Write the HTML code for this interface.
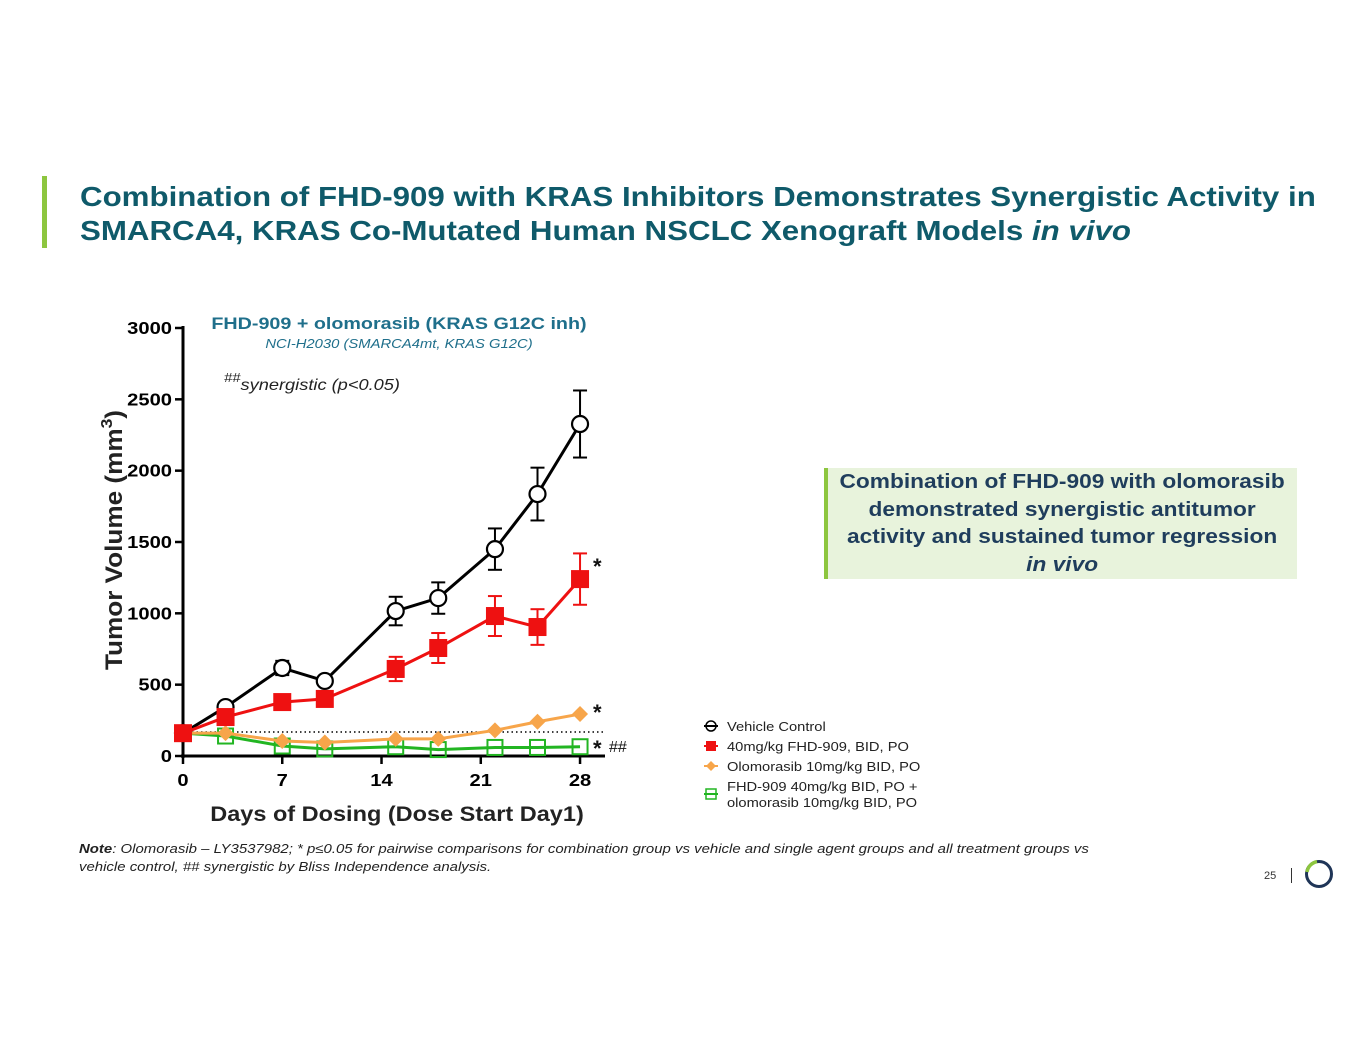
<!DOCTYPE html>
<html><head><meta charset="utf-8"><style>
body{margin:0;width:1365px;height:1055px;background:#fff;font-family:"Liberation Sans",sans-serif;position:relative;overflow:hidden}
.abs{position:absolute}
.sx{transform-origin:0 0}
</style></head><body>
<div class="abs" style="left:42px;top:176px;width:5px;height:72px;background:#8dc63f"></div>
<div class="abs sx" style="left:80px;top:180px;font-size:27.5px;font-weight:bold;color:#0f5a6a;line-height:34px;white-space:nowrap;transform:scaleX(1.137)">Combination of FHD-909 with KRAS Inhibitors Demonstrates Synergistic Activity in<br>SMARCA4, KRAS Co-Mutated Human NSCLC Xenograft Models <i>in vivo</i></div>
<div class="abs" style="left:824px;top:468px;width:469px;height:111px;background:#e8f3dc;border-left:4px solid #8dc63f"></div>
<div class="abs" style="left:828px;top:469px;width:469px;text-align:center;color:#1f3d5c;font-weight:bold;font-size:20px;line-height:27.5px"><div style="display:inline-block;transform:scaleX(1.135)">Combination of FHD-909 with olomorasib<br>demonstrated synergistic antitumor<br>activity and sustained tumor regression<br><i>in vivo</i></div></div>
<div class="abs sx" style="left:79px;top:840px;font-size:13px;font-style:italic;color:#222;line-height:18px;white-space:nowrap;transform:scaleX(1.15)"><b>Note</b>: Olomorasib – LY3537982; * p≤0.05 for pairwise comparisons for combination group vs vehicle and single agent groups and all treatment groups vs<br>vehicle control, ## synergistic by Bliss Independence analysis.</div>
<div class="abs" style="left:1264px;top:870px;font-size:11px;color:#333">25</div>
<div class="abs" style="left:1291px;top:868px;width:1px;height:15px;background:#333"></div>
<svg class="abs" style="left:1303px;top:858px" width="32" height="32"><circle cx="16" cy="16" r="12.5" fill="none" stroke="#1f3557" stroke-width="3"/><path d="M4 14 A12.5 12.5 0 0 1 14 3.6" fill="none" stroke="#8dc63f" stroke-width="3.5"/></svg>
<svg id="chart" class="abs" style="left:0;top:0" width="1365" height="1055"></svg>
<script>
const days=[0,3,7,10,15,18,22,25,28];
const vehicle=[160,343,617,526,1016,1107,1450,1836,2327];
const vehicleErr=[0,20,50,20,100,110,145,185,235];
const fhd=[160,273,378,400,610,757,981,904,1240];
const fhdErr=[0,20,20,20,85,105,140,125,180];
const olo=[160,160,105,95,120,120,180,240,294];
const combo=[160,140,70,50,65,45,60,60,65];
const yTicks=[0,500,1000,1500,2000,2500,3000];
const xTicks=[0,7,14,21,28];
const baseline=168;
const X=d=>183+d*14.18, Y=v=>756-v*0.14267;
const svg=document.getElementById('chart');
const NS='http://www.w3.org/2000/svg';
function mk(t,a,txt){const e=document.createElementNS(NS,t);for(const k in a)e.setAttribute(k,a[k]);if(txt!==undefined)e.textContent=txt;svg.appendChild(e);return e;}
function sx(el,x,s){el.setAttribute('transform',`translate(${x},0) scale(${s},1) translate(${-x},0)`);}
let e;
e=mk('line',{x1:183,y1:326,x2:183,y2:758,stroke:'#000','stroke-width':3});


e=mk('line',{x1:181,y1:756,x2:605,y2:756,stroke:'#000','stroke-width':3});


yTicks.forEach(v=>{mk('line',{x1:175,y1:Y(v),x2:183,y2:Y(v),stroke:'#000','stroke-width':2.5});
e=mk('text',{x:172,y:Y(v)+6,'text-anchor':'end','font-size':18,'font-weight':'bold'},v);sx(e,172,1.12);

});
xTicks.forEach(v=>{mk('line',{x1:X(v),y1:756,x2:X(v),y2:764,stroke:'#000','stroke-width':2.5});
e=mk('text',{x:X(v),y:786,'text-anchor':'middle','font-size':18,'font-weight':'bold'},v);sx(e,X(v),1.12);

});
e=mk('line',{x1:183,y1:Y(baseline),x2:605,y2:Y(baseline),stroke:'#000','stroke-width':1.5,'stroke-dasharray':'1.5,3'});


e=mk('text',{x:397,y:821,'text-anchor':'middle','font-size':21,'font-weight':'bold',fill:'#222'},'Days of Dosing (Dose Start Day1)');sx(e,397,1.12);


e=mk('text',{transform:'translate(122,540) rotate(-90)','text-anchor':'middle','font-size':24,'font-weight':'bold',fill:'#222',textLength:260,lengthAdjust:'spacingAndGlyphs'});
e.innerHTML='Tumor Volume (mm<tspan dy="-10" font-size="16">3</tspan><tspan dy="10">)</tspan>';


e=mk('text',{x:399,y:329,'text-anchor':'middle','font-size':17,'font-weight':'bold',fill:'#1f6f8b'},'FHD-909 + olomorasib (KRAS G12C inh)');sx(e,399,1.16);


e=mk('text',{x:399,y:348,'text-anchor':'middle','font-size':13,'font-style':'italic',fill:'#1f6f8b'},'NCI-H2030 (SMARCA4mt, KRAS G12C)');sx(e,399,1.14);


e=mk('text',{x:224,y:390,'font-size':16,'font-style':'italic',fill:'#222'});
e.innerHTML='<tspan dy="-8" font-size="13">##</tspan><tspan dy="8">synergistic (p&lt;0.05)</tspan>';sx(e,224,1.14);


function series(name,vals,errs,color,marker){
 if(errs) vals.forEach((v,i)=>{if(errs[i]>0){const x=X(days[i]);
  mk('line',{x1:x,y1:Y(v-errs[i]),x2:x,y2:Y(v+errs[i]),stroke:color,'stroke-width':2});
  mk('line',{x1:x-7,y1:Y(v+errs[i]),x2:x+7,y2:Y(v+errs[i]),stroke:color,'stroke-width':2});
  mk('line',{x1:x-7,y1:Y(v-errs[i]),x2:x+7,y2:Y(v-errs[i]),stroke:color,'stroke-width':2});}});
 e=mk('polyline',{points:vals.map((v,i)=>X(days[i])+','+Y(v)).join(' '),fill:'none',stroke:color,'stroke-width':3});
 
 
 vals.forEach((v,i)=>{const x=X(days[i]),y=Y(v);
  if(marker==='circle')e=mk('circle',{cx:x,cy:y,r:8,fill:'#fff',stroke:color,'stroke-width':2.2});
  else if(marker==='square')e=mk('rect',{x:x-9,y:y-9,width:18,height:18,fill:color});
  else if(marker==='diamond')e=mk('polygon',{points:`${x},${y-8} ${x+8},${y} ${x},${y+8} ${x-8},${y}`,fill:color});
  else e=mk('rect',{x:x-7.5,y:y-7.5,width:15,height:15,fill:'none',stroke:color,'stroke-width':2});
  
  });
}
series('combo',combo,null,'#22b522','osquare');
series('olomorasib',olo,null,'#f7a54a','diamond');
series('vehicle',vehicle,vehicleErr,'#000','circle');
series('fhd909',fhd,fhdErr,'#ee1111','square');
[[593,574,'*'],[593,720,'*'],[593,756,'*'],[609,752,'##']].forEach(a=>{e=mk('text',{x:a[0],y:a[1],'font-size':a[2]==='*'?22:16,'font-weight':a[2]==='*'?'bold':'normal',fill:'#111'},a[2]);

});
const leg=[['Vehicle Control','#000','circle',726],['40mg/kg FHD-909, BID, PO','#ee1111','square',746],['Olomorasib 10mg/kg BID, PO','#f7a54a','diamond',766],['FHD-909 40mg/kg BID, PO +','#22b522','osquare',786]];
leg.forEach(l=>{const x=711,y=l[3];
 const yy=l[2]==='osquare'?y+8:y;
 mk('line',{x1:x-7,y1:yy,x2:x+7,y2:yy,stroke:l[1],'stroke-width':2});
 if(l[2]==='circle')mk('circle',{cx:x,cy:yy,r:5,fill:'none',stroke:l[1],'stroke-width':1.5});
 else if(l[2]==='square')mk('rect',{x:x-5,y:yy-5,width:10,height:10,fill:l[1]});
 else if(l[2]==='diamond')mk('polygon',{points:`${x},${yy-5} ${x+5},${yy} ${x},${yy+5} ${x-5},${yy}`,fill:l[1]});
 else mk('rect',{x:x-5,y:yy-5,width:10,height:10,fill:'none',stroke:l[1],'stroke-width':1.5});
 e=mk('text',{x:727,y:y+5,'font-size':13,fill:'#222'},l[0]);sx(e,727,1.13);
 
 });
e=mk('text',{x:727,y:807,'font-size':13,fill:'#222'},'olomorasib 10mg/kg BID, PO');sx(e,727,1.13);


</script>
</body></html>
